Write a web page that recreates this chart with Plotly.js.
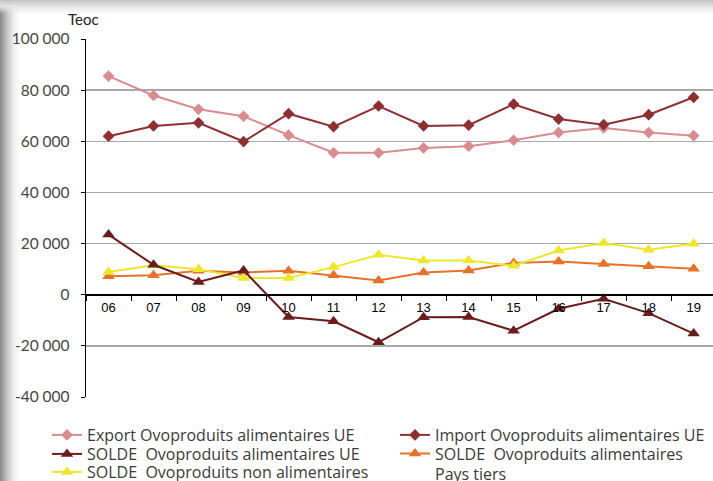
<!DOCTYPE html>
<html><head><meta charset="utf-8">
<script src="https://cdn.plot.ly/plotly-3.0.1.min.js"></script>
<style>
html,body{margin:0;padding:0;background:#fff;}
#wrap{position:relative;width:713px;height:481px;overflow:hidden;background:#fff;}
#shL{position:absolute;left:0;top:0;width:20px;height:481px;background:linear-gradient(to right,#8a8a8a 0%,#c4c4c4 35%,#efefef 70%,rgba(255,255,255,0) 100%);z-index:0;}
#shT{position:absolute;left:0;top:0;width:713px;height:14px;background:linear-gradient(to bottom,#c2c2c2 0%,#e4e4e4 45%,rgba(255,255,255,0) 100%);z-index:0;}
#chart{position:absolute;left:0;top:0;width:713px;height:481px;z-index:1;}
</style></head>
<body><div id="wrap"><div id="shL"></div><div id="shT"></div><div id="chart"></div></div>
<script>
const years = ["06","07","08","09","10","11","12","13","14","15","16","17","18","19"];
const exportUE = [85500,77900,72500,69800,62400,55500,55500,57400,58100,60400,63400,65200,63400,62200];
const importUE = [62000,66000,67200,59900,70800,65700,73800,66000,66300,74500,68700,66500,70400,77200];
const soldeUE = [23500,11700,5000,9500,-8700,-10400,-18600,-8800,-8700,-14100,-5500,-1600,-7200,-15200];
const soldePT = [7200,7600,9400,8700,9400,7600,5600,8700,9500,12400,13000,12000,11100,10200];
const soldeNonAlim = [8900,11500,10000,6500,6500,10800,15600,13400,13400,11300,17300,20200,17600,19900];
const yTickVals = [-40000,-20000,0,20000,40000,60000,80000,100000];
const yTickText = ["-40 000","-20 000","0","20 000","40 000","60 000","80 000","100 000"];

const names = {
  exp: "Export Ovoproduits alimentaires UE",
  imp: "Import Ovoproduits alimentaires UE",
  sue: "SOLDE  Ovoproduits alimentaires UE",
  spt: "SOLDE  Ovoproduits alimentaires<br>Pays tiers",
  sna: "SOLDE  Ovoproduits non alimentaires"
};
function tr(y, name, color, sym, size, leg){
  return {x: years, y: y, name: name, type: 'scatter', mode: 'lines+markers',
    line: {color: color, width: 2}, marker: {symbol: sym, size: size, color: color},
    legend: leg, cliponaxis: false};
}
const data = [
  tr(exportUE, names.exp, '#d98c8f', 'diamond', 9, 'legend'),
  tr(importUE, names.imp, '#8e2f32', 'diamond', 9, 'legend2'),
  tr(soldePT, names.spt, '#e8712a', 'triangle-up', 11, 'legend4'),
  tr(soldeNonAlim, names.sna, '#ede62c', 'triangle-up', 11, 'legend5'),
  tr(soldeUE, names.sue, '#6a1c1c', 'triangle-up', 11, 'legend3')
];

const PL = 86, PW = 627, H = 481;
const legFont = {family: '"Open Sans", Lato, sans-serif', size: 16, color: '#3a3a3a'};
function legAt(textX, cy, anchor){
  return {x: (textX - 40 - PL) / PW, xref: 'paper', y: 1 - cy / H, yref: 'container',
    xanchor: 'left', yanchor: anchor || 'middle', orientation: 'v', font: legFont,
    tracegroupgap: 0, itemwidth: 30, bgcolor: 'rgba(0,0,0,0)', valign: 'top', borderwidth: 0};
}
const layout = {
  width: 713, height: 481,
  margin: {l: 86, r: 0, t: 39, b: 84},
  paper_bgcolor: 'rgba(0,0,0,0)', plot_bgcolor: 'rgba(0,0,0,0)',
  showlegend: true,
  xaxis: {
    type: 'category', range: [-0.5, 13.43],
    anchor: 'free', position: (0 - (-40000)) / 140000,
    showline: true, linecolor: '#000', linewidth: 1.3,
    ticks: 'outside', ticklen: 5, tickcolor: '#000', tickson: 'boundaries',
    showgrid: false, zeroline: false,
    tickfont: {family: '"Liberation Sans", Arial, sans-serif', size: 13, color: '#000'}
  },
  yaxis: {
    range: [-40000, 100000], tickmode: 'array', tickvals: yTickVals, ticktext: yTickText,
    showline: true, linecolor: '#000', linewidth: 1.3,
    showgrid: true, gridcolor: '#a8a8a8', gridwidth: 1.4,
    zeroline: true, zerolinecolor: '#000', zerolinewidth: 1.3,
    ticks: 'outside', ticklen: 4, tickcolor: '#000', ticklabelstandoff: 8,
    tickfont: {family: 'Lato, "DejaVu Sans", sans-serif', size: 15.5, color: '#444'}
  },
  legend: legAt(87, 435),
  legend2: legAt(435, 435),
  legend3: legAt(87, 454),
  legend4: legAt(435, 464),
  legend5: legAt(87, 472),
  annotations: [{text: 'Teoc', xref: 'paper', yref: 'paper', x: (66 - PL) / PW, y: 1, xanchor: 'left', yanchor: 'bottom',
    yshift: 9, showarrow: false, font: {family: 'Lato, "DejaVu Sans", sans-serif', size: 15, color: '#222'}}]
};
Plotly.newPlot('chart', data, layout, {displayModeBar: false, staticPlot: true});
</script></body></html>
